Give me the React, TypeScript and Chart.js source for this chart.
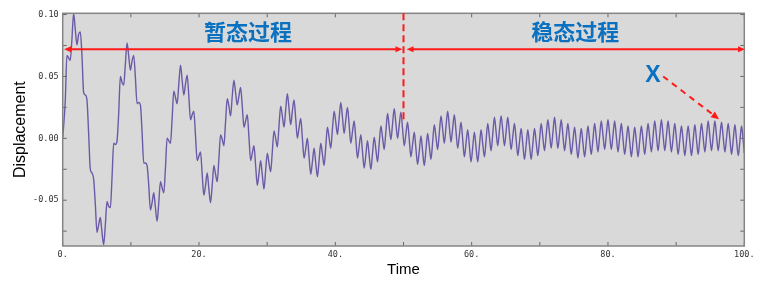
import React, { useEffect, useRef } from 'react';
import { Chart, registerables } from 'chart.js';

Chart.register(...registerables);

// Sample times (s): local peaks/troughs of the fast ripple and the points between them
const time = [
  0, 0.375, 0.62, 0.865, 1.11, 1.355, 1.6, 1.845,
  2.09, 2.335, 2.58, 2.825, 3.07, 3.315, 3.56, 3.805,
  4.05, 4.295, 4.54, 4.785, 5.03, 5.275, 5.52, 5.765,
  6.01, 6.255, 6.5, 6.745, 6.99, 7.235, 7.48, 7.725,
  7.97, 8.215, 8.46, 8.705, 8.95, 9.195, 9.44, 9.685,
  9.93, 10.175, 10.42, 10.665, 10.91, 11.155, 11.4, 11.645,
  11.89, 12.135, 12.38, 12.625, 12.87, 13.115, 13.36, 13.605,
  13.85, 14.095, 14.34, 14.585, 14.83, 15.075, 15.32, 15.565,
  15.81, 16.055, 16.3, 16.545, 16.79, 17.035, 17.28, 17.525,
  17.77, 18.015, 18.26, 18.505, 18.75, 18.995, 19.24, 19.485,
  19.73, 19.975, 20.22, 20.465, 20.71, 20.955, 21.2, 21.445,
  21.69, 21.935, 22.18, 22.425, 22.67, 22.915, 23.16, 23.405,
  23.65, 23.895, 24.14, 24.385, 24.63, 24.875, 25.12, 25.365,
  25.61, 25.855, 26.1, 26.345, 26.59, 26.835, 27.08, 27.325,
  27.57, 27.815, 28.06, 28.305, 28.55, 28.795, 29.04, 29.285,
  29.53, 29.775, 30.02, 30.265, 30.51, 30.755, 31.0, 31.245,
  31.49, 31.735, 31.98, 32.225, 32.47, 32.715, 32.96, 33.205,
  33.45, 33.695, 33.94, 34.185, 34.43, 34.675, 34.92, 35.165,
  35.41, 35.655, 35.9, 36.145, 36.39, 36.635, 36.88, 37.125,
  37.37, 37.615, 37.86, 38.105, 38.35, 38.595, 38.84, 39.085,
  39.33, 39.575, 39.82, 40.065, 40.31, 40.555, 40.8, 41.045,
  41.29, 41.535, 41.78, 42.025, 42.27, 42.515, 42.76, 43.005,
  43.25, 43.495, 43.74, 43.985, 44.23, 44.475, 44.72, 44.965,
  45.21, 45.455, 45.7, 45.945, 46.19, 46.435, 46.68, 46.925,
  47.17, 47.415, 47.66, 47.905, 48.15, 48.395, 48.64, 48.885,
  49.13, 49.375, 49.62, 49.865, 50.11, 50.355, 50.6, 50.845,
  51.09, 51.335, 51.58, 51.825, 52.07, 52.315, 52.56, 52.805,
  53.05, 53.295, 53.54, 53.785, 54.03, 54.275, 54.52, 54.765,
  55.01, 55.255, 55.5, 55.745, 55.99, 56.235, 56.48, 56.725,
  56.97, 57.215, 57.46, 57.705, 57.95, 58.195, 58.44, 58.685,
  58.93, 59.175, 59.42, 59.665, 59.91, 60.155, 60.4, 60.645,
  60.89, 61.135, 61.38, 61.625, 61.87, 62.115, 62.36, 62.605,
  62.85, 63.095, 63.34, 63.585, 63.83, 64.075, 64.32, 64.565,
  64.81, 65.055, 65.3, 65.545, 65.79, 66.035, 66.28, 66.525,
  66.77, 67.015, 67.26, 67.505, 67.75, 67.995, 68.24, 68.485,
  68.73, 68.975, 69.22, 69.465, 69.71, 69.955, 70.2, 70.445,
  70.69, 70.935, 71.18, 71.425, 71.67, 71.915, 72.16, 72.405,
  72.65, 72.895, 73.14, 73.385, 73.63, 73.875, 74.12, 74.365,
  74.61, 74.855, 75.1, 75.345, 75.59, 75.835, 76.08, 76.325,
  76.57, 76.815, 77.06, 77.305, 77.55, 77.795, 78.04, 78.285,
  78.53, 78.775, 79.02, 79.265, 79.51, 79.755, 80.0, 80.245,
  80.49, 80.735, 80.98, 81.225, 81.47, 81.715, 81.96, 82.205,
  82.45, 82.695, 82.94, 83.185, 83.43, 83.675, 83.92, 84.165,
  84.41, 84.655, 84.9, 85.145, 85.39, 85.635, 85.88, 86.125,
  86.37, 86.615, 86.86, 87.105, 87.35, 87.595, 87.84, 88.085,
  88.33, 88.575, 88.82, 89.065, 89.31, 89.555, 89.8, 90.045,
  90.29, 90.535, 90.78, 91.025, 91.27, 91.515, 91.76, 92.005,
  92.25, 92.495, 92.74, 92.985, 93.23, 93.475, 93.72, 93.965,
  94.21, 94.455, 94.7, 94.945, 95.19, 95.435, 95.68, 95.925,
  96.17, 96.415, 96.66, 96.905, 97.15, 97.395, 97.64, 97.885,
  98.13, 98.375, 98.62, 98.865, 99.11, 99.355, 99.6, 99.845,
  100,
];

// Displacement at each sample time
const displacement = [
  0, 0.030, 0.067, 0.065, 0.063, 0.080, 0.101, 0.088,
  0.0755, 0.084, 0.086, 0.067, 0.037, 0.035, 0.031, 0.004,
  -0.025, -0.028, -0.033, -0.053, -0.076, -0.070, -0.064, -0.076,
  -0.086, -0.070, -0.051, -0.055, -0.056, -0.032, -0.004, -0.005,
  -0.002, 0.020, 0.050, 0.045, 0.043, 0.060, 0.077, 0.0665,
  0.055, 0.0625, 0.067, 0.049, 0.028, 0.029, 0.027, 0.005,
  -0.020, -0.020, -0.022, -0.038, -0.058, -0.052, -0.044, -0.056,
  -0.067, -0.052, -0.035, -0.040, -0.044, -0.024, 0.000, -0.002,
  -0.004, 0.016, 0.038, 0.033, 0.028, 0.044, 0.059, 0.047,
  0.035, 0.044, 0.051, 0.034, 0.015, 0.019, 0.022, 0.002,
  -0.018, -0.0145, -0.011, -0.029, -0.046, -0.038, -0.028, -0.041,
  -0.052, -0.038, -0.022, -0.029, -0.035, -0.0165, 0.003, -0.001,
  -0.006, 0.0135, 0.032, 0.026, 0.018, 0.034, 0.047, 0.037,
  0.027, 0.034, 0.041, 0.026, 0.009, 0.014, 0.019, 0.001,
  -0.018, -0.012, -0.006, -0.022, -0.038, -0.0285, -0.018, -0.0296,
  -0.041, -0.026, -0.012, -0.020, -0.027, -0.0106, 0.006, 0.000,
  -0.007, 0.010, 0.026, 0.018, 0.009, 0.023, 0.036, 0.024,
  0.011, 0.022, 0.031, 0.016, 0.000, 0.0084, 0.016, 0.000,
  -0.016, -0.0085, 0.000, -0.015, -0.029, -0.019, -0.008, -0.020,
  -0.031, -0.018, -0.004, -0.013, -0.022, -0.0067, 0.009, 0.0005,
  -0.008, 0.0074, 0.022, 0.013, 0.003, 0.016, 0.029, 0.017,
  0.004, 0.015, 0.025, 0.011, -0.004, 0.0054, 0.014, -0.0007,
  -0.016, -0.0064, 0.003, -0.011, -0.024, -0.0135, -0.002, -0.014,
  -0.025, -0.0123, 0.001, -0.0089, -0.019, -0.0043, 0.010, 0.0008,
  -0.009, 0.0055, 0.020, 0.0092, -0.001, 0.0115, 0.024, 0.012,
  0.000, 0.0106, 0.021, 0.0076, -0.006, 0.0036, 0.013, -0.0009,
  -0.015, -0.005, 0.005, -0.0084, -0.021, -0.0103, 0.002, -0.0105,
  -0.022, -0.0092, 0.004, -0.0065, -0.017, -0.003, 0.011, 0.0009,
  -0.009, 0.0046, 0.018, 0.0075, -0.004, 0.0092, 0.022, 0.0095,
  -0.003, 0.0081, 0.019, 0.0056, -0.008, 0.0024, 0.013, -0.0009,
  -0.015, -0.0039, 0.007, -0.0061, -0.019, -0.0073, 0.005, -0.0074,
  -0.019, -0.0064, 0.007, -0.0045, -0.015, -0.0019, 0.012, 0.0009,
  -0.010, 0.0034, 0.017, 0.0053, -0.006, 0.0064, 0.018, 0.0064,
  -0.006, 0.0054, 0.017, 0.0038, -0.009, 0.0015, 0.012, -0.0008,
  -0.014, -0.003, 0.008, -0.0046, -0.017, -0.0054, 0.007, -0.0054,
  -0.017, -0.0045, 0.008, -0.0031, -0.014, -0.0012, 0.012, 0.0008,
  -0.010, 0.0025, 0.015, 0.0038, -0.008, 0.0045, 0.017, 0.0044,
  -0.008, 0.0037, 0.015, 0.0025, -0.010, 0.0009, 0.012, -0.0007,
  -0.013, -0.0021, 0.009, -0.0032, -0.016, -0.0037, 0.008, -0.0036,
  -0.015, -0.003, 0.010, -0.002, -0.013, -0.0007, 0.012, 0.0006,
  -0.011, 0.0018, 0.014, 0.0026, -0.009, 0.0029, 0.015, 0.0029,
  -0.009, 0.0025, 0.014, 0.0016, -0.011, 0.0005, 0.012, -0.0006,
  -0.013, -0.0016, 0.010, -0.0023, -0.015, -0.0028, 0.009, -0.0027,
  -0.015, -0.0022, 0.010, -0.0015, -0.013, -0.0004, 0.012, 0.0006,
  -0.011, 0.0015, 0.014, 0.0021, -0.010, 0.0025, 0.015, 0.0024,
  -0.010, 0.0019, 0.014, 0.0013, -0.011, 0.0004, 0.012, -0.0005,
  -0.013, -0.0014, 0.010, -0.0019, -0.014, -0.0022, 0.010, -0.0021,
  -0.014, -0.0018, 0.011, -0.0011, -0.013, -0.0003, 0.012, 0.0005,
  -0.011, 0.0013, 0.014, 0.0017, -0.010, 0.002, 0.014, 0.0019,
  -0.010, 0.0016, 0.013, 0.001, -0.011, 0.0003, 0.012, -0.0005,
  -0.013, -0.0012, 0.011, -0.0017, -0.014, -0.002, 0.010, -0.002,
  -0.012,
];

const xTitle = 'Time';
const yTitle = 'Displacement';
const transientLabel = '暂态过程';
const steadyLabel = '稳态过程';
const markerLabel = 'X';

const X_MIN = 0;
const X_MAX = 100;
const Y_MIN = -0.087;
const Y_MAX = 0.101;
const X_TICK_STEP = 10;
const X_LABEL_EVERY = 20;
const Y_TICK_STEP = 0.025;

const LINE_COLOR = '#6b5aa6';
const PLOT_BG = '#d9d9d9';
const RED = '#ff1a1a';
const BLUE = '#0a70c0';

function arrowHead(ctx: CanvasRenderingContext2D, x: number, y: number, ang: number, len: number, half: number) {
  const c = Math.cos(ang);
  const s = Math.sin(ang);
  ctx.beginPath();
  ctx.moveTo(x, y);
  ctx.lineTo(x - len * c + half * s, y - len * s - half * c);
  ctx.lineTo(x - len * c - half * s, y - len * s + half * c);
  ctx.closePath();
  ctx.fill();
}

const decorPlugin = {
  id: 'decor',
  beforeDraw(chart: any) {
    const { ctx, chartArea: a } = chart;
    ctx.save();
    ctx.fillStyle = PLOT_BG;
    ctx.fillRect(a.left, a.top, a.right - a.left, a.bottom - a.top);
    ctx.restore();
  },
  afterDraw(chart: any) {
    const { ctx, chartArea: a } = chart;
    const xs = chart.scales.x;
    const ys = chart.scales.y;
    const X = (v: number) => xs.getPixelForValue(v);
    const Y = (v: number) => ys.getPixelForValue(v);
    ctx.save();

    // inward tick marks on all four sides
    ctx.strokeStyle = '#666';
    ctx.lineWidth = 1;
    ctx.beginPath();
    xs.ticks.forEach((t: any) => {
      const p = X(t.value);
      ctx.moveTo(p, a.bottom);
      ctx.lineTo(p, a.bottom - 4);
      ctx.moveTo(p, a.top);
      ctx.lineTo(p, a.top + 4);
    });
    ys.ticks.forEach((t: any) => {
      const p = Y(t.value);
      ctx.moveTo(a.left, p);
      ctx.lineTo(a.left + 4, p);
      ctx.moveTo(a.right, p);
      ctx.lineTo(a.right - 4, p);
    });
    ctx.stroke();

    // frame
    ctx.strokeStyle = '#858585';
    ctx.lineWidth = 1.5;
    ctx.strokeRect(a.left, a.top, a.right - a.left, a.bottom - a.top);

    // divider between transient and steady state
    ctx.strokeStyle = RED;
    ctx.fillStyle = RED;
    ctx.lineWidth = 2;
    ctx.setLineDash([7, 4]);
    ctx.beginPath();
    ctx.moveTo(X(50), a.top);
    ctx.lineTo(X(50), Y(0.0135));
    ctx.stroke();
    ctx.setLineDash([]);

    // double arrows
    const ay = Y(0.072);
    const drawDouble = (x0: number, x1: number) => {
      ctx.beginPath();
      ctx.moveTo(x0 + 4, ay);
      ctx.lineTo(x1 - 4, ay);
      ctx.stroke();
      arrowHead(ctx, x0, ay, Math.PI, 7, 3);
      arrowHead(ctx, x1, ay, 0, 7, 3);
    };
    drawDouble(X(0.2), X(49.85));
    drawDouble(X(50.45), X(100.1));

    // dashed pointer from X to the curve
    const sx = X(88.1), sy = Y(0.050);
    const ex = X(96.3), ey = Y(0.0154);
    const ang = Math.atan2(ey - sy, ex - sx);
    ctx.setLineDash([6, 5]);
    ctx.beginPath();
    ctx.moveTo(sx, sy);
    ctx.lineTo(ex - 6 * Math.cos(ang), ey - 6 * Math.sin(ang));
    ctx.stroke();
    ctx.setLineDash([]);
    arrowHead(ctx, ex, ey, ang, 8, 3.5);

    // labels
    ctx.fillStyle = BLUE;
    ctx.textAlign = 'center';
    ctx.textBaseline = 'middle';
    ctx.font = 'bold 22px "Noto Sans CJK SC", sans-serif';
    ctx.fillText(transientLabel, X(27.2), Y(0.086));
    ctx.fillText(steadyLabel, X(75.2), Y(0.086));
    ctx.font = 'bold 23px "Liberation Sans", Arial, sans-serif';
    ctx.fillText(markerLabel, X(86.6), Y(0.0505));

    ctx.restore();
  },
};

export default function App() {
  const canvasRef = useRef<HTMLCanvasElement | null>(null);

  useEffect(() => {
    if (!canvasRef.current) return;
    const n = Math.min(time.length, displacement.length);
    const points = time.slice(0, n).map((t, i) => ({ x: t, y: displacement[i] }));
    const tickFont = { family: '"DejaVu Sans Mono", monospace', size: 8.5 };
    const titleFamily = '"Liberation Sans", Arial, sans-serif';
    const chart = new Chart(canvasRef.current, {
      type: 'line',
      data: {
        datasets: [
          {
            data: points,
            borderColor: LINE_COLOR,
            borderWidth: 1.4,
            pointRadius: 0,
            cubicInterpolationMode: 'monotone',
            fill: false,
          },
        ],
      },
      options: {
        animation: false,
        responsive: true,
        maintainAspectRatio: false,
        layout: { padding: { left: 0, top: 13.3, right: 15.7, bottom: 0 } },
        plugins: { legend: { display: false }, tooltip: { enabled: false } },
        scales: {
          x: {
            type: 'linear',
            min: X_MIN,
            max: X_MAX,
            grid: { display: false, drawTicks: false },
            border: { display: false },
            ticks: {
              stepSize: X_TICK_STEP,
              autoSkip: false,
              maxRotation: 0,
              padding: 4,
              color: '#333',
              font: tickFont,
              callback: (v: any) => (Math.round(v) % X_LABEL_EVERY === 0 ? `${Math.round(v)}.` : ''),
            },
            title: {
              display: true,
              text: xTitle,
              color: '#000',
              font: { family: titleFamily, size: 15 },
              padding: { top: 0, bottom: 4 },
            },
            afterFit: (s: any) => {
              s.height = 37;
            },
          },
          y: {
            type: 'linear',
            min: Y_MIN,
            max: Y_MAX,
            grid: { display: false, drawTicks: false },
            border: { display: false },
            ticks: {
              stepSize: Y_TICK_STEP,
              includeBounds: false,
              autoSkip: false,
              padding: 4,
              color: '#333',
              font: tickFont,
              callback: (v: any) => {
                const m = Math.round(v * 1000);
                return m % 50 === 0 ? (m / 1000).toFixed(2) : '';
              },
            },
            title: {
              display: true,
              text: yTitle,
              color: '#000',
              font: { family: titleFamily, size: 16 },
              padding: { top: 11, bottom: 0 },
            },
            afterFit: (s: any) => {
              s.width = 62.7;
            },
          },
        },
      },
      plugins: [decorPlugin],
    } as any);
    return () => chart.destroy();
  }, []);

  return (
    <div style={{ position: 'fixed', left: 0, top: 0, width: 760, height: 283, background: '#fff' }}>
      <canvas ref={canvasRef} />
    </div>
  );
}
